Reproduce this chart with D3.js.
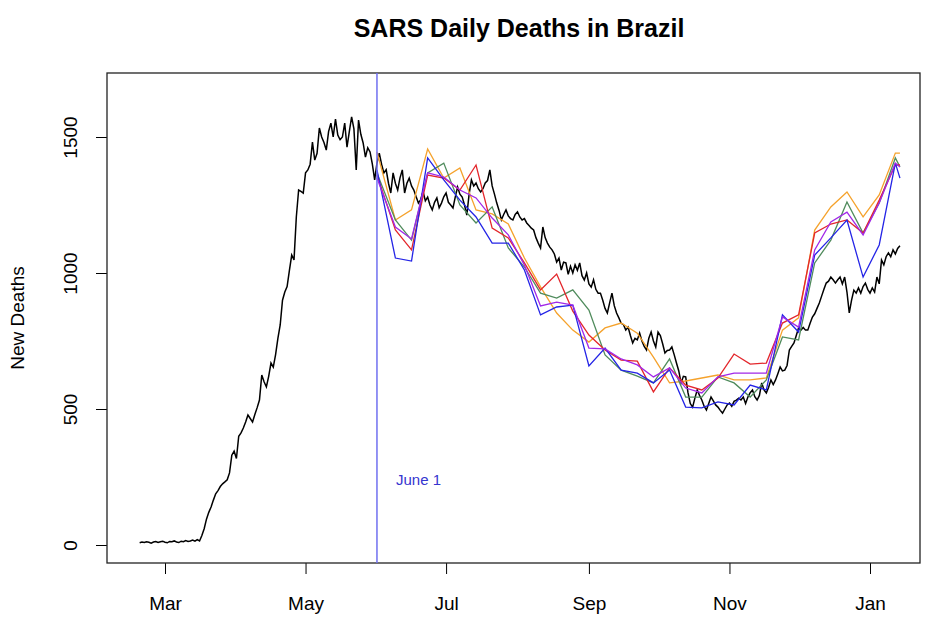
<!DOCTYPE html>
<meta charset="utf-8">
<script src="https://d3js.org/d3.v7.min.js"></script>
<style>
  body { margin: 0; background: #fff; }
  text { font-family: "Liberation Sans", Arial, Helvetica, sans-serif; }
</style>
<div id="chart"></div>
<script>
// observed daily deaths, one value per day starting at startDate
var startDate = "2020-02-19";
var dailyDeaths = [
  8,11,9,12,10,7,11,13,9,12,
  14,10,8,13,12,15,11,9,14,12,
  16,13,15,18,14,20,15,35,60,95,
  120,140,165,188,200,215,225,232,240,265,
  330,345,318,400,412,430,452,478,465,452,
  480,505,533,625,600,581,620,669,654,700,
  760,809,900,930,950,1010,1066,1048,1206,1305,
  1300,1294,1368,1379,1400,1481,1415,1440,1533,1500,
  1480,1452,1520,1551,1500,1566,1507,1490,1500,1551,
  1463,1520,1574,1530,1379,1562,1510,1478,1426,1460,
  1445,1400,1342,1404,1441,1400,1368,1380,1330,1294,
  1368,1330,1305,1350,1379,1294,1330,1349,1320,1305,
  1280,1257,1270,1300,1265,1279,1250,1232,1260,1276,
  1240,1257,1280,1294,1260,1250,1239,1280,1316,1290,
  1279,1250,1213,1290,1342,1320,1331,1310,1298,1310,
  1331,1340,1379,1320,1290,1257,1230,1195,1215,1232,
  1210,1200,1195,1215,1225,1206,1195,1200,1184,1175,
  1165,1158,1130,1110,1092,1169,1130,1110,1095,1085,
  1070,1040,1055,1011,1040,1037,995,1025,1000,1030,
  1010,1037,990,974,1000,960,948,975,940,926,
  926,900,870,853,890,926,880,853,835,815,
  810,790,801,770,743,760,754,779,750,730,
  717,760,783,750,728,783,770,740,706,715,
  717,728,700,669,640,596,620,618,560,520,
  507,540,570,550,533,510,496,520,544,530,
  515,507,495,485,500,515,522,510,528,533,
  540,533,544,520,544,560,570,545,533,550,
  596,570,559,580,607,590,607,630,654,640,
  643,660,717,730,743,770,798,790,800,790,
  790,815,838,850,870,890,915,940,963,970,
  985,975,963,975,985,960,985,930,853,900,
  937,926,945,926,950,963,940,926,945,930,
  985,960,1048,1030,1060,1074,1060,1085,1070,1090,1100
];

// weekly projection dates
var forecastDates = [
  "2020-06-01","2020-06-09","2020-06-16","2020-06-23","2020-06-30",
  "2020-07-07","2020-07-14","2020-07-21","2020-07-28",
  "2020-08-04","2020-08-11","2020-08-18","2020-08-25",
  "2020-09-01","2020-09-08","2020-09-15","2020-09-22","2020-09-29",
  "2020-10-06","2020-10-13","2020-10-20","2020-10-27",
  "2020-11-03","2020-11-10","2020-11-17","2020-11-24",
  "2020-12-01","2020-12-08","2020-12-15","2020-12-22","2020-12-29",
  "2021-01-05","2021-01-12","2021-01-14"
];
var orangeSeries = [1445,1195,1232,1456,1349,1386,1232,1217,1180,1055,949,853,790,746,798,816,779,691,596,603,614,625,607,607,614,790,835,1158,1243,1298,1206,1287,1441,1441];
var greenSeries  = [1368,1195,1121,1368,1404,1250,1184,1243,1092,1022,926,908,938,864,699,643,621,596,684,544,544,618,596,544,607,765,754,1037,1121,1261,1147,1257,1423,1390];
var redSeries    = [1360,1158,1085,1360,1349,1305,1397,1165,1129,1037,938,996,860,772,717,680,676,563,651,588,570,614,702,665,669,816,846,1147,1180,1195,1147,1268,1397,1397];
var blueSeries   = [1379,1055,1044,1423,1342,1268,1206,1110,1110,1011,846,875,882,658,724,643,632,596,643,507,504,526,515,588,570,846,783,1066,1129,1195,985,1103,1404,1349];
var purpleSeries = [1349,1169,1125,1368,1353,1305,1276,1202,1140,1029,879,893,882,724,721,684,662,618,651,577,559,618,632,632,632,838,801,1085,1188,1224,1140,1257,1404,1390];

var xTickDates = ["2020-03-01","2020-05-01","2020-07-01","2020-09-01","2020-11-01","2021-01-01"];
var yTickValues = [0, 500, 1000, 1500];
var markerDate = "2020-06-01";

var width = 932, height = 623;
var box = {left: 107, top: 73, right: 920, bottom: 563};

var parse = d3.utcParse("%Y-%m-%d");

var svg = d3.select("#chart").append("svg")
  .attr("width", width)
  .attr("height", height);

var x = d3.scaleUtc()
  .domain([parse("2020-03-01"), parse("2021-01-01")])
  .range([165, 870]);

var y = d3.scaleLinear()
  .domain([0, 1500])
  .range([545, 137]);

var t0 = parse(startDate);
var observed = dailyDeaths.map(function(v, i) {
  return {date: d3.utcDay.offset(t0, i), value: v};
});

var line = d3.line()
  .x(function(d) { return x(d.date); })
  .y(function(d) { return y(d.value); });

// title
svg.append("text")
  .attr("x", 519)
  .attr("y", 37)
  .attr("text-anchor", "middle")
  .style("font-weight", "bold")
  .style("font-size", "25px")
  .text("SARS Daily Deaths in Brazil");

// y label
svg.append("text")
  .attr("transform", "translate(24," + ((box.top + box.bottom) / 2) + ") rotate(-90)")
  .attr("text-anchor", "middle")
  .style("font-size", "19px")
  .text("New Deaths");

// axes
var xAxis = svg.append("g")
  .attr("transform", "translate(0," + box.bottom + ")")
  .call(d3.axisBottom(x)
    .tickValues(xTickDates.map(parse))
    .tickFormat(d3.utcFormat("%b"))
    .tickSize(11)
    .tickSizeOuter(0));
xAxis.select(".domain").remove();
xAxis.selectAll("text")
  .attr("y", 40)
  .attr("dy", "0.35em")
  .style("font-size", "19px")
  .attr("fill", "#000");

var yAxis = svg.append("g")
  .attr("transform", "translate(" + box.left + ",0)")
  .call(d3.axisLeft(y)
    .tickValues(yTickValues)
    .tickFormat(d3.format("d"))
    .tickSize(11)
    .tickSizeOuter(0));
yAxis.select(".domain").remove();
yAxis.selectAll("text")
  .attr("x", null)
  .attr("dy", null)
  .attr("text-anchor", "middle")
  .attr("transform", "translate(-30,0) rotate(-90)")
  .style("font-size", "19px")
  .attr("fill", "#000");
yAxis.selectAll("line").attr("stroke", "#000");
xAxis.selectAll("line").attr("stroke", "#000");

// plot box
svg.append("rect")
  .attr("x", box.left)
  .attr("y", box.top)
  .attr("width", box.right - box.left)
  .attr("height", box.bottom - box.top)
  .attr("fill", "none")
  .attr("stroke", "#222")
  .attr("stroke-width", 1.3);

var plot = svg.append("g");

plot.append("path")
  .datum(observed)
  .attr("d", line)
  .attr("fill", "none")
  .attr("stroke", "#000")
  .attr("stroke-width", 1.5);

var projections = [
  {values: orangeSeries, color: "#f5a22c"},
  {values: greenSeries, color: "#4f8b5c"},
  {values: redSeries, color: "#e3262b"},
  {values: blueSeries, color: "#2424e6"},
  {values: purpleSeries, color: "#a128e8"}
];

projections.forEach(function(p) {
  var pts = p.values.map(function(v, i) {
    return {date: parse(forecastDates[i]), value: v};
  });
  plot.append("path")
    .datum(pts)
    .attr("d", line)
    .attr("fill", "none")
    .attr("stroke", p.color)
    .attr("stroke-width", 1.3);
});

// June 1 marker
var mx = x(parse(markerDate));
plot.append("line")
  .attr("x1", mx).attr("x2", mx)
  .attr("y1", box.top).attr("y2", box.bottom)
  .attr("stroke", "#6f6ff0")
  .attr("stroke-width", 1.5);

plot.append("text")
  .attr("x", mx + 19)
  .attr("y", 485)
  .style("font-size", "15px")
  .attr("fill", "#3535cf")
  .text("June 1");
</script>
